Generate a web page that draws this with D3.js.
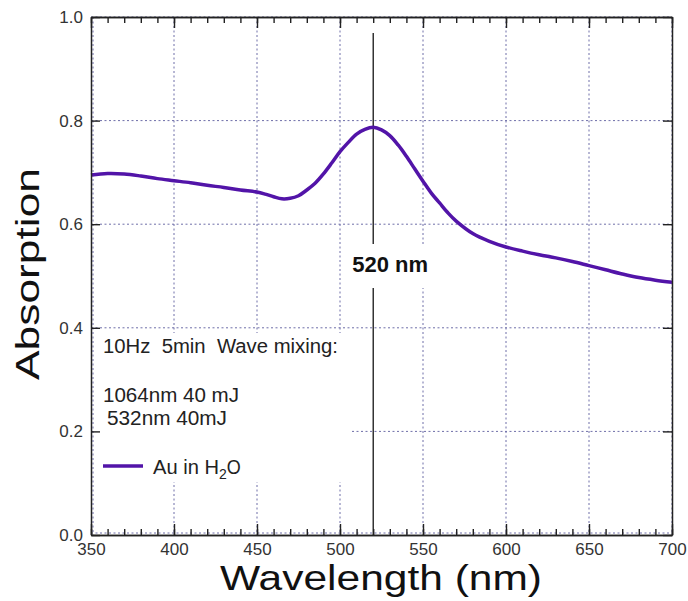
<!DOCTYPE html>
<html>
<head>
<meta charset="utf-8">
<script src="https://cdn.jsdelivr.net/npm/d3@7"></script>
<style>
  body { margin: 0; background: #fff; }
  svg { display: block; font-family: "Liberation Sans", Arial, sans-serif; }
</style>
</head>
<body>
<div id="chart"></div>
<script>
// Absorption spectrum of Au in H2O
const wavelength = [350, 360, 370, 380, 390, 400, 410, 420, 430, 440, 450, 455, 460, 465, 470, 475, 480, 485, 490, 495, 500, 505, 510, 515, 520, 525, 530, 535, 540, 545, 550, 555, 560, 565, 570, 580, 590, 600, 610, 620, 630, 640, 650, 660, 670, 680, 690, 700];
const absorption = [0.695, 0.698, 0.697, 0.693, 0.688, 0.684, 0.680, 0.675, 0.671, 0.666, 0.662, 0.658, 0.653, 0.649, 0.650, 0.655, 0.666, 0.679, 0.697, 0.718, 0.740, 0.758, 0.774, 0.783, 0.787, 0.782, 0.771, 0.753, 0.731, 0.707, 0.683, 0.660, 0.641, 0.622, 0.606, 0.582, 0.567, 0.556, 0.548, 0.541, 0.535, 0.528, 0.520, 0.512, 0.504, 0.497, 0.492, 0.488];
const xTicks = [350, 400, 450, 500, 550, 600, 650, 700];
const yTicks = [0.0, 0.2, 0.4, 0.6, 0.8, 1.0];
const peak = 520;
const legendLines = ['10Hz  5min  Wave mixing:', '1064nm 40 mJ', '532nm 40mJ'];
const seriesName = ['Au in H', '2', 'O'];

const width = 688, height = 601;
const LINE = '#5214a8';
const GRID = '#6e6ea8';
const FRAME = '#222';

const svg = d3.select('#chart').append('svg')
    .attr('width', width).attr('height', height);

const x = d3.scaleLinear().domain([350, 700]).range([91, 672]);
const y = d3.scaleLinear().domain([0, 1]).range([535, 17]);
const [x0, x1] = x.range();
const [y0, y1] = y.range();

// Gridlines
const grid = svg.append('g').attr('stroke', GRID).attr('stroke-dasharray', '2,2.5').attr('stroke-width', 1);
grid.selectAll('line.vx').data(xTicks).enter().append('line')
    .attr('x1', (d) => x(d) + (d === 350 ? 2 : 0)).attr('x2', (d) => x(d) + (d === 350 ? 2 : 0))
    .attr('y1', y1).attr('y2', y0);
grid.selectAll('line.hy').data(yTicks).enter().append('line')
    .attr('x1', x0).attr('x2', x1)
    .attr('y1', (d) => y(d) - (d === 0 ? 2 : 0)).attr('y2', (d) => y(d) - (d === 0 ? 2 : 0));

// white panel behind the legend text
svg.append('rect').attr('x', x0 + 3).attr('y', 333).attr('width', 258).attr('height', 149).attr('fill', '#fff');

// Peak marker
svg.append('line')
    .attr('x1', x(peak)).attr('x2', x(peak))
    .attr('y1', 33).attr('y2', y0)
    .attr('stroke', '#000').attr('stroke-width', 1.2);
svg.append('rect').attr('x', x(peak) - 22).attr('y', 244).attr('width', 80).attr('height', 44).attr('fill', '#fff');
svg.append('text')
    .attr('x', x(peak) - 21).attr('y', 272)
    .attr('font-size', 22).attr('font-weight', 'bold').attr('fill', '#111')
    .text(`${peak} nm`);

// Curve
const line = d3.line()
    .x((d, i) => x(wavelength[i]))
    .y((d) => y(d))
    .curve(d3.curveCatmullRom);
svg.append('path')
    .datum(absorption)
    .attr('d', line)
    .attr('fill', 'none')
    .attr('stroke', LINE)
    .attr('stroke-width', 3.5)
    .attr('stroke-linejoin', 'round');

// Frame and ticks
const styleFrame = (sel) => {
    sel.select('.domain').attr('stroke', FRAME).attr('stroke-width', 1.5);
    sel.selectAll('.tick line').attr('stroke', FRAME).attr('stroke-width', 1.4);
};
const tickText = (sel) => sel.selectAll('text')
    .attr('font-size', 17).attr('fill', '#333')
    .attr('font-family', '"Liberation Sans", Arial, sans-serif');
const minor = d3.range(350, 701, 10);

svg.append('g').attr('transform', `translate(0,${y0})`)
    .call(d3.axisBottom(x).tickValues(minor).tickSize(-6).tickSizeOuter(0).tickFormat(''))
    .call(styleFrame);
svg.append('g').attr('transform', `translate(0,${y0})`)
    .call(d3.axisBottom(x).tickValues(xTicks).tickSize(-11).tickSizeOuter(0).tickPadding(8).tickFormat(d3.format('d')))
    .call(styleFrame)
    .call(tickText);

svg.append('g').attr('transform', `translate(0,${y1})`)
    .call(d3.axisTop(x).tickValues(minor).tickSize(-6).tickSizeOuter(0).tickFormat(''))
    .call(styleFrame);
svg.append('g').attr('transform', `translate(0,${y1})`)
    .call(d3.axisTop(x).tickValues(xTicks).tickSize(-11).tickSizeOuter(0).tickFormat(''))
    .call(styleFrame);

svg.append('g').attr('transform', `translate(${x0},0)`)
    .call(d3.axisLeft(y).tickValues(yTicks).tickSize(-9).tickSizeOuter(0).tickPadding(8).tickFormat(d3.format('.1f')))
    .call(styleFrame)
    .call(tickText);

svg.append('g').attr('transform', `translate(${x1},0)`)
    .call(d3.axisRight(y).tickValues(yTicks).tickSize(-9).tickSizeOuter(0).tickFormat(''))
    .call(styleFrame);

// Axis titles
svg.append('text')
    .attr('x', 220).attr('y', 590)
    .attr('font-size', 35).attr('fill', '#111')
    .attr('textLength', 322).attr('lengthAdjust', 'spacingAndGlyphs')
    .text('Wavelength (nm)');
svg.append('text')
    .attr('transform', 'translate(39,380) rotate(-90)')
    .attr('font-size', 34).attr('fill', '#111')
    .attr('textLength', 212).attr('lengthAdjust', 'spacingAndGlyphs')
    .text('Absorption');

// Legend / annotation
const legend = svg.append('g').attr('font-size', 20).attr('fill', '#222');
legend.append('text').attr('x', 103).attr('y', 353)
    .attr('textLength', 235).attr('lengthAdjust', 'spacingAndGlyphs')
    .style('white-space', 'pre').text(legendLines[0]);
legend.append('text').attr('x', 103).attr('y', 402)
    .attr('textLength', 136).attr('lengthAdjust', 'spacingAndGlyphs')
    .text(legendLines[1]);
legend.append('text').attr('x', 107).attr('y', 425)
    .attr('textLength', 120).attr('lengthAdjust', 'spacingAndGlyphs')
    .text(legendLines[2]);
legend.append('line').attr('x1', 103).attr('x2', 143).attr('y1', 466).attr('y2', 466)
    .attr('stroke', LINE).attr('stroke-width', 3.5);
const au = legend.append('text').attr('x', 153).attr('y', 474);
au.append('tspan').attr('textLength', 66).attr('lengthAdjust', 'spacingAndGlyphs').text(seriesName[0]);
au.append('tspan').attr('font-size', 14).attr('dy', 5).text(seriesName[1]);
au.append('tspan').attr('dy', -5).attr('textLength', 14).attr('lengthAdjust', 'spacingAndGlyphs').text(seriesName[2]);
</script>
</body>
</html>
